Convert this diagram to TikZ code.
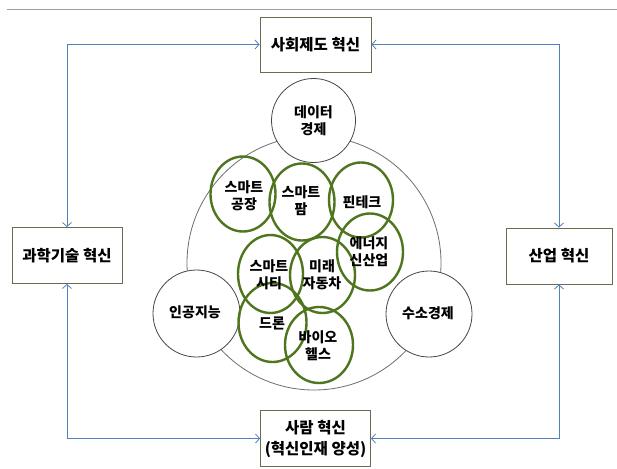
\documentclass[tikz,border=0pt]{standalone}
\usepackage{fontspec}
\setmainfont{Noto Sans CJK KR}
\usetikzlibrary{arrows.meta}
\definecolor{arrowblue}{RGB}{79,129,189}
\definecolor{boxline}{RGB}{110,105,80}
\definecolor{circline}{RGB}{70,70,70}
\definecolor{bigline}{RGB}{110,110,110}
\definecolor{leafgreen}{RGB}{79,118,30}
\definecolor{rulegray}{RGB}{150,160,170}
\tikzset{
  boxn/.style={draw=boxline, line width=0.9pt, fill=white, minimum width=111pt, minimum height=55pt, align=center, font=\fontsize{15.5}{21}\selectfont\bfseries, inner sep=0pt},
  graycirc/.style={draw=circline, line width=0.8pt, fill=white, circle, minimum size=86pt, inner sep=0pt},
  greenell/.style={draw=leafgreen, line width=2.4pt},
  ctext/.style={align=center, font=\fontsize{14}{17}\selectfont\bfseries, inner sep=0pt},
  flow/.style={draw=arrowblue, line width=0.8pt, {Straight Barb[length=4pt,width=9pt]}-{Straight Barb[length=4pt,width=9pt]}}
}
\begin{document}
\begin{tikzpicture}[x=1pt,y=-1pt]
\useasboundingbox (0,0) rectangle (617,468);
\fill[white] (0,0) rectangle (617,468);
\draw[rulegray, line width=0.9pt] (7,9) -- (617,9);

% boxes
\node[boxn] (T) at (315.5,44.5) {사회제도 혁신};
\node[boxn, minimum width=110pt, minimum height=56pt] (L) at (67,255.5) {과학기술 혁신};
\node[boxn, minimum width=106pt, minimum height=56pt] (R) at (559,256) {산업 혁신};
\node[boxn, minimum width=110pt, minimum height=56pt] (B) at (315.5,438.5) {사람 혁신\\(혁신인재 양성)};

% connectors
\draw[flow] (L.north) |- (T.west);
\draw[flow] (R.north) |- (T.east);
\draw[flow] (L.south) |- (B.west);
\draw[flow] (R.south) |- (B.east);

% big circle
\node[draw=bigline, line width=0.8pt, circle, minimum size=254pt, inner sep=0pt] (big) at (314,263) {};

% gray circles
\node[graycirc, minimum size=84pt] (data) at (313.5,120.5) {};
\node[graycirc, minimum size=87pt] (ai) at (196.5,313.5) {};
\node[graycirc, minimum size=86pt] (h2) at (429,314) {};
\node[ctext] (datat) at (313.5,120.5) {데이터\\경제};
\node[ctext] (ait) at (195,312) {인공지능};
\node[ctext] (h2t) at (428,313) {수소경제};

% green ellipses
\draw[greenell] (243,194) ellipse [x radius=32.5, y radius=37.5];
\draw[greenell] (302,202) ellipse [x radius=32.5, y radius=38.5];
\draw[greenell] (361,200) ellipse [x radius=32, y radius=37.5];
\draw[greenell] (370,252) ellipse [x radius=33, y radius=38.5];
\draw[greenell] (270.5,274) ellipse [x radius=32.5, y radius=39];
\draw[greenell] (322.5,275) ellipse [x radius=32.5, y radius=38];
\draw[greenell] (272.5,322.5) ellipse [x radius=34, y radius=39.5];
\draw[greenell] (319,345) ellipse [x radius=34, y radius=38];

% green texts
\node[ctext] (f1) at (244,196) {스마트\\공장};
\node[ctext] (f2) at (301,201) {스마트\\팜};
\node[ctext] (f3) at (362,202) {핀테크};
\node[ctext] (f4) at (369,252) {에너지\\신산업};
\node[ctext] (f5) at (269,275) {스마트\\시티};
\node[ctext] (f6) at (322,275) {미래\\자동차};
\node[ctext] (f7) at (272,323) {드론};
\node[ctext] (f8) at (318,346) {바이오\\헬스};
\end{tikzpicture}
\end{document}
